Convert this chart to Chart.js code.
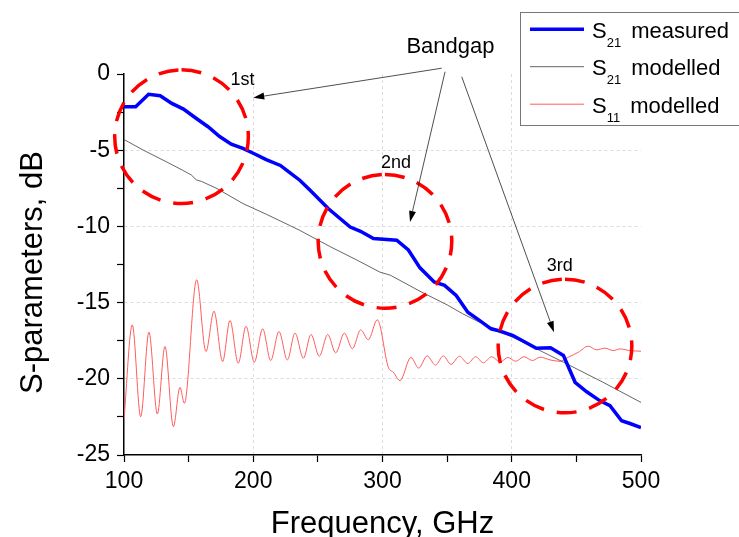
<!DOCTYPE html>
<html lang="en">
<head>
<meta charset="UTF-8">
<title>S-parameters</title>
<script src="https://cdn.jsdelivr.net/npm/chart.js@4.4.0/dist/chart.umd.min.js"></script>
<style>
    html, body { margin: 0; padding: 0; background: #fff; }
    .graph-container { width: 739px; height: 537px; }
</style>
</head>
<body>
<div class="graph-container"><canvas id="myChart" width="739" height="537"></canvas></div>
<script>
    // S21 measured
    const measFreq = [100, 109, 119, 128, 137, 146, 156, 165, 174, 183, 192, 200, 210, 221, 228, 236, 244, 258, 275, 283,
        293, 311, 320, 329, 340, 348, 357, 366, 375, 384, 390, 401, 419, 430, 440, 449, 458, 468, 476, 485, 492, 500];
    const measDb = [-2.15, -2.15, -1.33, -1.43, -1.93, -2.30, -2.92, -3.46, -4.10, -4.60, -4.88, -5.20, -5.62, -6.00, -6.45, -6.97, -7.63, -8.83, -10.04, -10.32,
        -10.80, -10.91, -11.55, -12.72, -13.65, -13.87, -14.53, -15.63, -16.17, -16.72, -16.85, -17.16, -17.99, -17.97, -18.47, -20.23, -20.85, -21.43, -21.76, -22.75, -22.95, -23.20];

    // S21 modelled
    const s21Freq = [100, 115, 133, 145, 152, 156, 160, 172, 192, 210, 228, 236, 260, 280, 298, 306, 330, 350, 362, 373, 390, 410, 440, 470, 500];
    const s21Db = [-4.30, -5.00, -5.77, -6.30, -6.62, -6.95, -7.05, -7.52, -8.50, -9.20, -9.93, -10.26, -11.35, -12.20, -13.00, -13.20, -14.30, -15.15, -15.73, -16.20,
        -16.85, -17.65, -18.91, -20.20, -21.55];

    // S11 modelled (peaks and troughs)
    const s11Freq = [100, 106.4, 112.9, 119.3, 125.8, 131.7, 138.2, 143.3, 146.7, 156.2, 163.4, 169.6, 176.3, 182, 188.4, 194.4, 200.8, 207.3, 213.5, 219.9,
        226.4, 232.3, 238.8, 244.7, 251.1, 257.6, 263.8, 270.5, 276.7, 283.1, 289, 296, 304.5, 308.4, 313.5, 322, 328, 334.5, 341, 347,
        353, 359.5, 366, 372, 378, 384.5, 391, 397, 403, 409.5, 416, 422, 429.6, 437.3, 443.8, 451.5, 459.2, 465.7, 472.1, 478.6,
        483.8, 491.5, 500];
    const s11Db = [-22.64, -16.46, -22.49, -16.94, -22.31, -17.88, -23.14, -20.56, -21.61, -13.50, -18.21, -15.56, -18.87, -16.17, -18.98, -16.55, -18.91, -16.72, -18.80, -16.90,
        -18.76, -17.00, -18.65, -17.09, -18.52, -17.09, -18.30, -17.00, -18.03, -16.79, -17.44, -16.13, -19.24, -19.57, -20.12, -18.60, -19.30, -18.50, -19.10, -18.50,
        -19.05, -18.52, -19.00, -18.55, -18.95, -18.55, -18.90, -18.60, -18.85, -18.55, -18.80, -18.58, -18.76, -18.85, -18.58, -18.26, -17.86, -18.10, -17.99, -18.15,
        -18.04, -18.15, -18.19];

    // legend text: S + subscript + name
    const legendSub = ['21', '21', '11'];
    const legendText = ['measured', 'modelled', 'modelled'];

    // bandgap circles (centre in GHz / dB, radius in GHz)
    const gapNames = ['1st', '2nd', '3rd'];
    const gapFreq = [144.5, 301.9, 441.2];
    const gapDb = [-4.11, -10.98, -17.85];
    const gapRadius = 51.7;
    const gapLabelFreq = [191.7, 310.4, 437.1];
    const gapLabelDb = [-0.72, -6.18, -12.95];

    // "Bandgap" arrows: tail and head in data units
    const arrowTailFreq = [345.8, 348.4, 361.3];
    const arrowTailDb = [0.38, 0.15, -0.18];
    const arrowHeadFreq = [200.0, 321.3, 432.7];
    const arrowHeadDb = [-1.56, -9.71, -16.94];
    const bandgapFreq = 352.6;
    const bandgapDb = 1.38;

    const FONT = '"Liberation Sans", Arial, sans-serif';

    function toPoints(xs, ys) {
        return xs.map((v, i) => ({ x: v, y: ys[i] }));
    }

    function drawArrow(ctx, x1, y1, x2, y2) {
        const ang = Math.atan2(y2 - y1, x2 - x1);
        const len = 11, half = 3.5;
        const c = Math.cos(ang), s = Math.sin(ang);
        ctx.beginPath();
        ctx.moveTo(x1, y1);
        ctx.lineTo(x2 - c * len, y2 - s * len);
        ctx.stroke();
        ctx.beginPath();
        ctx.moveTo(x2, y2);
        ctx.lineTo(x2 - c * len + s * half, y2 - s * len - c * half);
        ctx.lineTo(x2 - c * len - s * half, y2 - s * len + c * half);
        ctx.closePath();
        ctx.fill();
    }

    const overlayPlugin = {
        id: 'overlay',
        afterDraw(chart) {
            const { ctx, chartArea, scales: { x, y } } = chart;
            ctx.save();

            // dashed circles
            ctx.strokeStyle = '#ff0000';
            ctx.lineWidth = 3.5;
            ctx.setLineDash([20, 13]);
            for (let i = 0; i < gapFreq.length; i++) {
                const cx = x.getPixelForValue(gapFreq[i]);
                const cy = y.getPixelForValue(gapDb[i]);
                const r = x.getPixelForValue(gapFreq[i] + gapRadius) - cx;
                ctx.beginPath();
                ctx.arc(cx, cy, r, -Math.PI / 2, Math.PI * 1.5);
                ctx.stroke();
            }
            ctx.setLineDash([]);

            // arrows
            ctx.strokeStyle = '#222';
            ctx.fillStyle = '#000';
            ctx.lineWidth = 0.8;
            for (let i = 0; i < arrowTailFreq.length; i++) {
                drawArrow(ctx,
                    x.getPixelForValue(arrowTailFreq[i]), y.getPixelForValue(arrowTailDb[i]),
                    x.getPixelForValue(arrowHeadFreq[i]), y.getPixelForValue(arrowHeadDb[i]));
            }

            // labels
            ctx.fillStyle = '#000';
            ctx.textAlign = 'center';
            ctx.textBaseline = 'alphabetic';
            ctx.font = '22px ' + FONT;
            ctx.fillText('Bandgap', x.getPixelForValue(bandgapFreq), y.getPixelForValue(bandgapDb));
            ctx.font = '18px ' + FONT;
            for (let i = 0; i < gapNames.length; i++) {
                ctx.fillText(gapNames[i], x.getPixelForValue(gapLabelFreq[i]), y.getPixelForValue(gapLabelDb[i]));
            }

            // axis titles
            ctx.font = '31px ' + FONT;
            ctx.fillText('Frequency, GHz', (chartArea.left + chartArea.right) / 2, chartArea.bottom + 78);
            ctx.save();
            ctx.translate(chartArea.left - 82, (chartArea.top + chartArea.bottom) / 2 + 8);
            ctx.rotate(-Math.PI / 2);
            ctx.fillText('S-parameters, dB', 0, 0);
            ctx.restore();

            // legend
            const lx = 520, ly = 12;
            ctx.fillStyle = '#fff';
            ctx.fillRect(lx, ly, 240, 113);
            ctx.strokeStyle = '#777';
            ctx.lineWidth = 1;
            ctx.strokeRect(lx + 0.5, ly + 0.5, 240, 113);
            ctx.textAlign = 'left';
            chart.data.datasets.forEach((ds, i) => {
                const base = 37.7 + i * 37.5;
                ctx.strokeStyle = ds.borderColor;
                ctx.lineWidth = ds.borderWidth;
                ctx.beginPath();
                ctx.moveTo(530, base - 8.5);
                ctx.lineTo(584, base - 8.5);
                ctx.stroke();
                ctx.fillStyle = '#000';
                ctx.font = '22px ' + FONT;
                ctx.fillText('S', 592, base);
                const w1 = ctx.measureText('S').width;
                ctx.font = '13px ' + FONT;
                ctx.fillText(legendSub[i], 592 + w1, base + 9);
                const w2 = ctx.measureText(legendSub[i]).width;
                ctx.font = '22px ' + FONT;
                ctx.fillText(legendText[i], 592 + w1 + w2 + 10, base);
            });

            ctx.restore();
        }
    };

    const isMajorX = v => v % 100 === 0;
    const isMajorY = v => Math.abs(v % 5) < 1e-6;

    const ctx = document.getElementById('myChart').getContext('2d');
    const chart = new Chart(ctx, {
        type: 'line',
        data: {
            datasets: [{
                label: 'S21 measured',
                data: toPoints(measFreq, measDb),
                borderColor: '#0000ff',
                borderWidth: 3.5,
                pointRadius: 0,
                tension: 0
            }, {
                label: 'S21 modelled',
                data: toPoints(s21Freq, s21Db),
                borderColor: '#555555',
                borderWidth: 0.9,
                pointRadius: 0,
                tension: 0
            }, {
                label: 'S11 modelled',
                data: toPoints(s11Freq, s11Db),
                borderColor: '#ff5c5c',
                borderWidth: 1,
                pointRadius: 0,
                cubicInterpolationMode: 'monotone'
            }]
        },
        options: {
            responsive: false,
            animation: false,
            devicePixelRatio: 1,
            layout: { padding: { top: 74, right: 98, left: 0, bottom: 0 } },
            plugins: {
                legend: { display: false },
                tooltip: { enabled: false }
            },
            scales: {
                x: {
                    type: 'linear',
                    min: 100,
                    max: 500,
                    afterFit: s => { s.height = 82; },
                    ticks: {
                        stepSize: 50,
                        autoSkip: false,
                        maxRotation: 0,
                        padding: 6,
                        color: '#000',
                        font: { family: FONT, size: 23 },
                        callback: v => isMajorX(v) ? String(v) : ''
                    },
                    grid: {
                        color: c => (c.tick && isMajorX(c.tick.value) && c.tick.value > 100 && c.tick.value < 500) ? '#dcdcdc' : 'rgba(0,0,0,0)',
                        lineWidth: 1,
                        tickLength: 7,
                        tickColor: '#000',
                        tickWidth: 1.2
                    },
                    border: { display: true, color: '#000', width: 1.5, dash: [3, 3] }
                },
                y: {
                    min: -25,
                    max: 0,
                    afterFit: s => { s.width = 124; },
                    ticks: {
                        stepSize: 2.5,
                        autoSkip: false,
                        padding: 7,
                        color: '#000',
                        font: { family: FONT, size: 23 },
                        callback: v => isMajorY(v) ? String(v) : ''
                    },
                    grid: {
                        color: c => (c.tick && isMajorY(c.tick.value) && c.tick.value > -25 && c.tick.value < 0) ? '#dcdcdc' : 'rgba(0,0,0,0)',
                        lineWidth: 1,
                        tickLength: 7,
                        tickColor: '#000',
                        tickWidth: 1.2
                    },
                    border: { display: true, color: '#000', width: 1.5, dash: [3, 3] }
                }
            }
        },
        plugins: [overlayPlugin]
    });
</script>
</body>
</html>
